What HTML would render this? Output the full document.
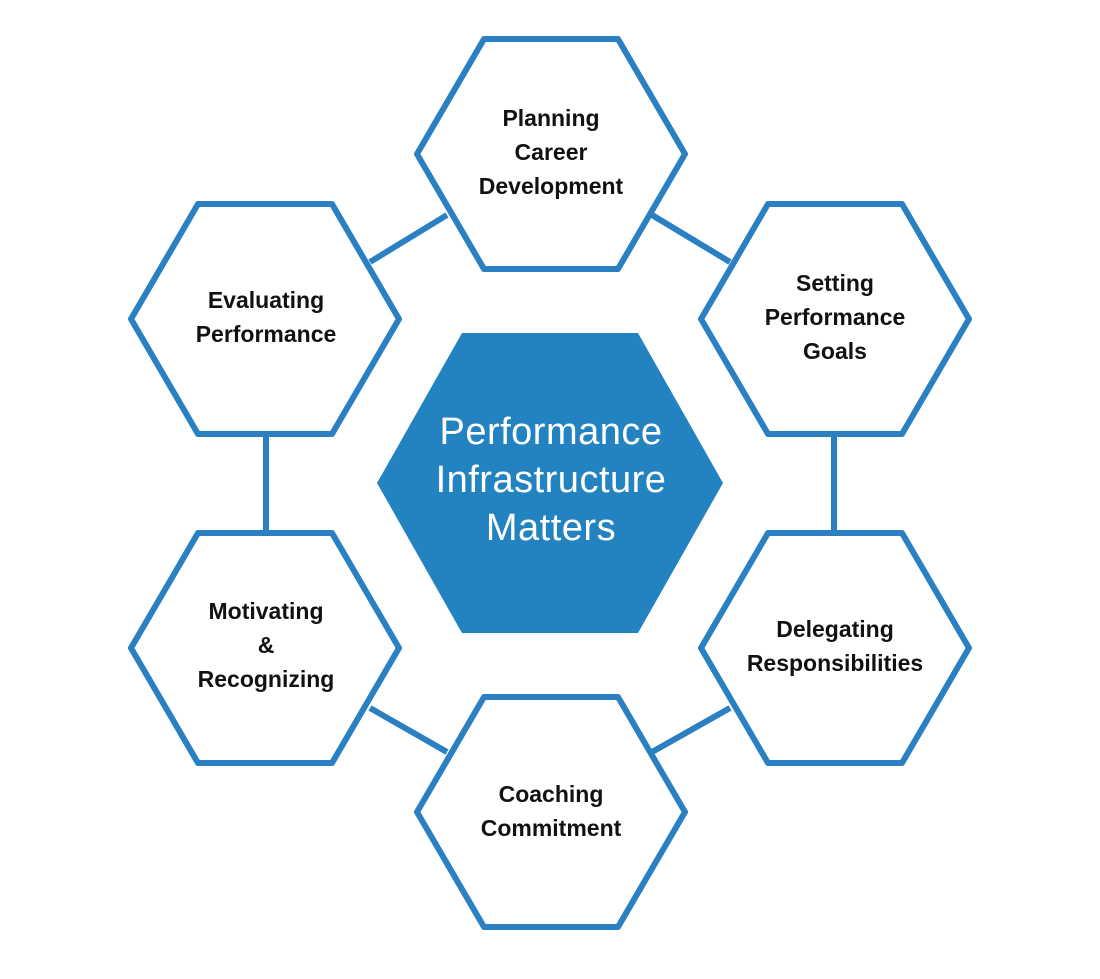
<!DOCTYPE html>
<html><head><style>
html,body{margin:0;padding:0;background:#fff;}
svg{display:block;}
.t{font-family:"Liberation Sans",sans-serif;font-weight:bold;font-size:23px;fill:#111;text-anchor:middle;}
.c{font-family:"Liberation Sans",sans-serif;font-size:38px;fill:#fff;text-anchor:middle;letter-spacing:0.5px;}
</style></head><body>
<svg width="1100" height="979" viewBox="0 0 1100 979" xmlns="http://www.w3.org/2000/svg">
<g stroke="#2b80c2" stroke-width="6" fill="none" stroke-linejoin="round">
<line x1="447" y1="215" x2="370" y2="262"/>
<line x1="652" y1="215" x2="730" y2="262"/>
<line x1="266" y1="435" x2="266" y2="532"/>
<line x1="834" y1="435" x2="834" y2="532"/>
<line x1="370" y1="708" x2="447" y2="752"/>
<line x1="652" y1="752" x2="730" y2="708"/>
<polygon fill="#fff" points="417,154 484,39 618,39 685,154 618,269 484,269"/>
<polygon fill="#fff" points="131,319 198,204 332,204 399,319 332,434 198,434"/>
<polygon fill="#fff" points="701,319 768,204 902,204 969,319 902,434 768,434"/>
<polygon fill="#fff" points="131,648 198,533 332,533 399,648 332,763 198,763"/>
<polygon fill="#fff" points="701,648 768,533 902,533 969,648 902,763 768,763"/>
<polygon fill="#fff" points="417,812 484,697 618,697 685,812 618,927 484,927"/>
</g>
<polygon fill="#2383c1" points="377,483 462,333 638,333 723,483 638,633 462,633"/>
<text class="t" x="551" y="126">Planning</text>
<text class="t" x="551" y="160">Career</text>
<text class="t" x="551" y="194">Development</text>
<text class="t" x="266" y="308">Evaluating</text>
<text class="t" x="266" y="342">Performance</text>
<text class="t" x="835" y="291">Setting</text>
<text class="t" x="835" y="325">Performance</text>
<text class="t" x="835" y="359">Goals</text>
<text class="t" x="266" y="619">Motivating</text>
<text class="t" x="266" y="653">&amp;</text>
<text class="t" x="266" y="687">Recognizing</text>
<text class="t" x="835" y="637">Delegating</text>
<text class="t" x="835" y="671">Responsibilities</text>
<text class="t" x="551" y="802">Coaching</text>
<text class="t" x="551" y="836">Commitment</text>
<text class="c" x="551" y="444">Performance</text>
<text class="c" x="551" y="492">Infrastructure</text>
<text class="c" x="551" y="540">Matters</text>
</svg>
</body></html>
